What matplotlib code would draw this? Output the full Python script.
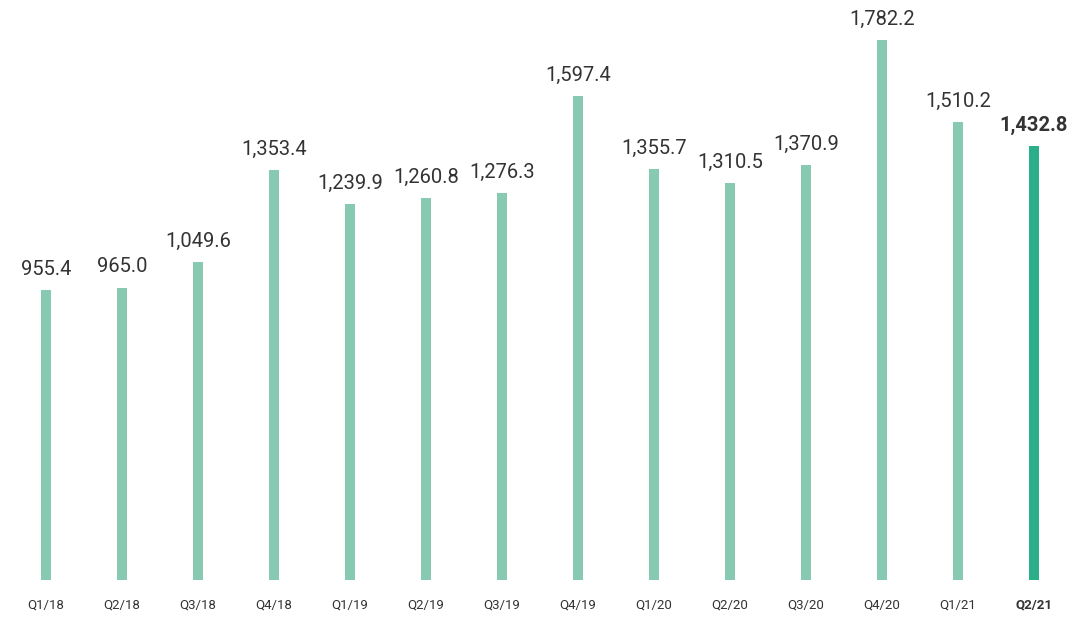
import matplotlib.pyplot as plt
import numpy as np

quarters = ["Q1/18", "Q2/18", "Q3/18", "Q4/18", "Q1/19", "Q2/19", "Q3/19",
            "Q4/19", "Q1/20", "Q2/20", "Q3/20", "Q4/20", "Q1/21", "Q2/21"]
values = [955.4, 965.0, 1049.6, 1353.4, 1239.9, 1260.8, 1276.3,
          1597.4, 1355.7, 1310.5, 1370.9, 1782.2, 1510.2, 1432.8]

light_green = "#88c9b2"
dark_green = "#2bae8a"
text_color = "#333333"

plt.rcParams['font.family'] = ['Roboto', 'DejaVu Sans']

fig = plt.figure(figsize=(10.69, 6.27), dpi=100)
ax = fig.add_axes([0, 0, 1, 1])

x = np.arange(len(values))
colors = [light_green] * (len(values) - 1) + [dark_green]
ax.bar(x, values, width=0.13, color=colors)

# 数值标签，最后一个季度加粗
for i, v in enumerate(values):
    last = i == len(values) - 1
    ax.annotate(f"{v:,.1f}", (i, v), xytext=(0, 8), textcoords="offset points",
                ha="center", va="bottom", fontsize=14.5, color=text_color,
                fontweight="bold" if last else "normal")
    ax.text(i, -82, quarters[i], ha="center", va="center", fontsize=9.5,
            color=text_color, fontweight="bold" if last else "normal")

ax.set_xlim(-0.605, 13.46)
ax.set_ylim(-155, 1914)
ax.axis("off")

plt.savefig("out.png", dpi=100)
plt.close()
